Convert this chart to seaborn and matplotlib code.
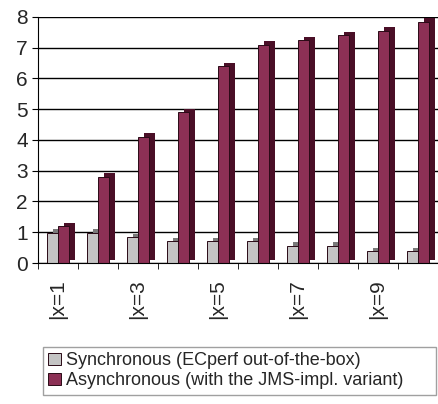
import matplotlib
matplotlib.use("Agg")
import matplotlib.pyplot as plt
import matplotlib.patheffects as pe
import numpy as np
import pandas as pd
import seaborn as sns

# data
groups = [f"x={i}" for i in range(1, 11)]
tick_labels = ["|x=1", "", "|x=3", "", "|x=5", "", "|x=7", "", "|x=9", ""]
sync_vals = [0.98, 0.98, 0.83, 0.70, 0.70, 0.70, 0.56, 0.56, 0.38, 0.38]
async_vals = [1.20, 2.80, 4.10, 4.90, 6.40, 7.10, 7.25, 7.40, 7.55, 7.85]
series = ["Synchronous (ECperf out-of-the-box)",
          "Asynchronous (with the JMS-impl. variant)"]
colors = ["#c4c4c4", "#9b2152"]
side_colors = ["#7a7a7a", "#4a0f27"]

df = pd.DataFrame({
    "group": groups * 2,
    "value": sync_vals + async_vals,
    "series": [series[0]] * len(groups) + [series[1]] * len(groups),
})

sns.set_style("white")
plt.rcParams["font.family"] = ["Liberation Sans", "DejaVu Sans"]

fig = plt.figure(figsize=(4.38, 4.04), dpi=100)
ax = fig.add_axes([0.087, 0.349, 0.913, 0.609])

sns.barplot(data=df, x="group", y="value", hue="series", palette=colors,
            width=0.55, edgecolor="#2a0a16", linewidth=0.7, ax=ax,
            legend=True)

# fake 3D side face, like the old spreadsheet chart
for container, side in zip(ax.containers, side_colors):
    for bar in container:
        bar.set_path_effects([
            pe.SimplePatchShadow(offset=(4.5, 2.5), shadow_rgbFace=side,
                                 alpha=1.0, rho=1.0),
            pe.Normal(),
        ])

ax.set_xlim(-0.5, 9.5)
ax.set_ylim(0, 8)
ax.set_yticks(range(0, 9))
ax.yaxis.grid(True, color="black", linewidth=1.0)
ax.set_axisbelow(True)
ax.set_xlabel("")
ax.set_ylabel("")

ax.set_xticks(range(len(groups)))
ax.set_xticklabels(tick_labels, rotation=90, fontsize=15)
ax.set_xticks(np.arange(-0.5, 10, 1), minor=True)
ax.tick_params(axis="x", which="major", length=0, pad=12)
ax.tick_params(axis="x", which="minor", length=4, color="black", bottom=True)
ax.tick_params(axis="y", labelsize=15, length=4, left=True, color="black")

for side in ["top", "right"]:
    ax.spines[side].set_visible(False)
ax.spines["left"].set_color("black")
ax.spines["bottom"].set_color("black")

handles, labels = ax.get_legend_handles_labels()
ax.get_legend().remove()
fig.legend(handles, labels, loc="upper left",
           bbox_to_anchor=(0.098, 0.041, 0.897, 0.1), mode="expand",
           fontsize=13, frameon=True, edgecolor="#888888", fancybox=False,
           handlelength=0.7, handleheight=0.7, handletextpad=0.3,
           borderpad=0.3, labelspacing=0.15, borderaxespad=0)

fig.savefig("out.png", dpi=100)
